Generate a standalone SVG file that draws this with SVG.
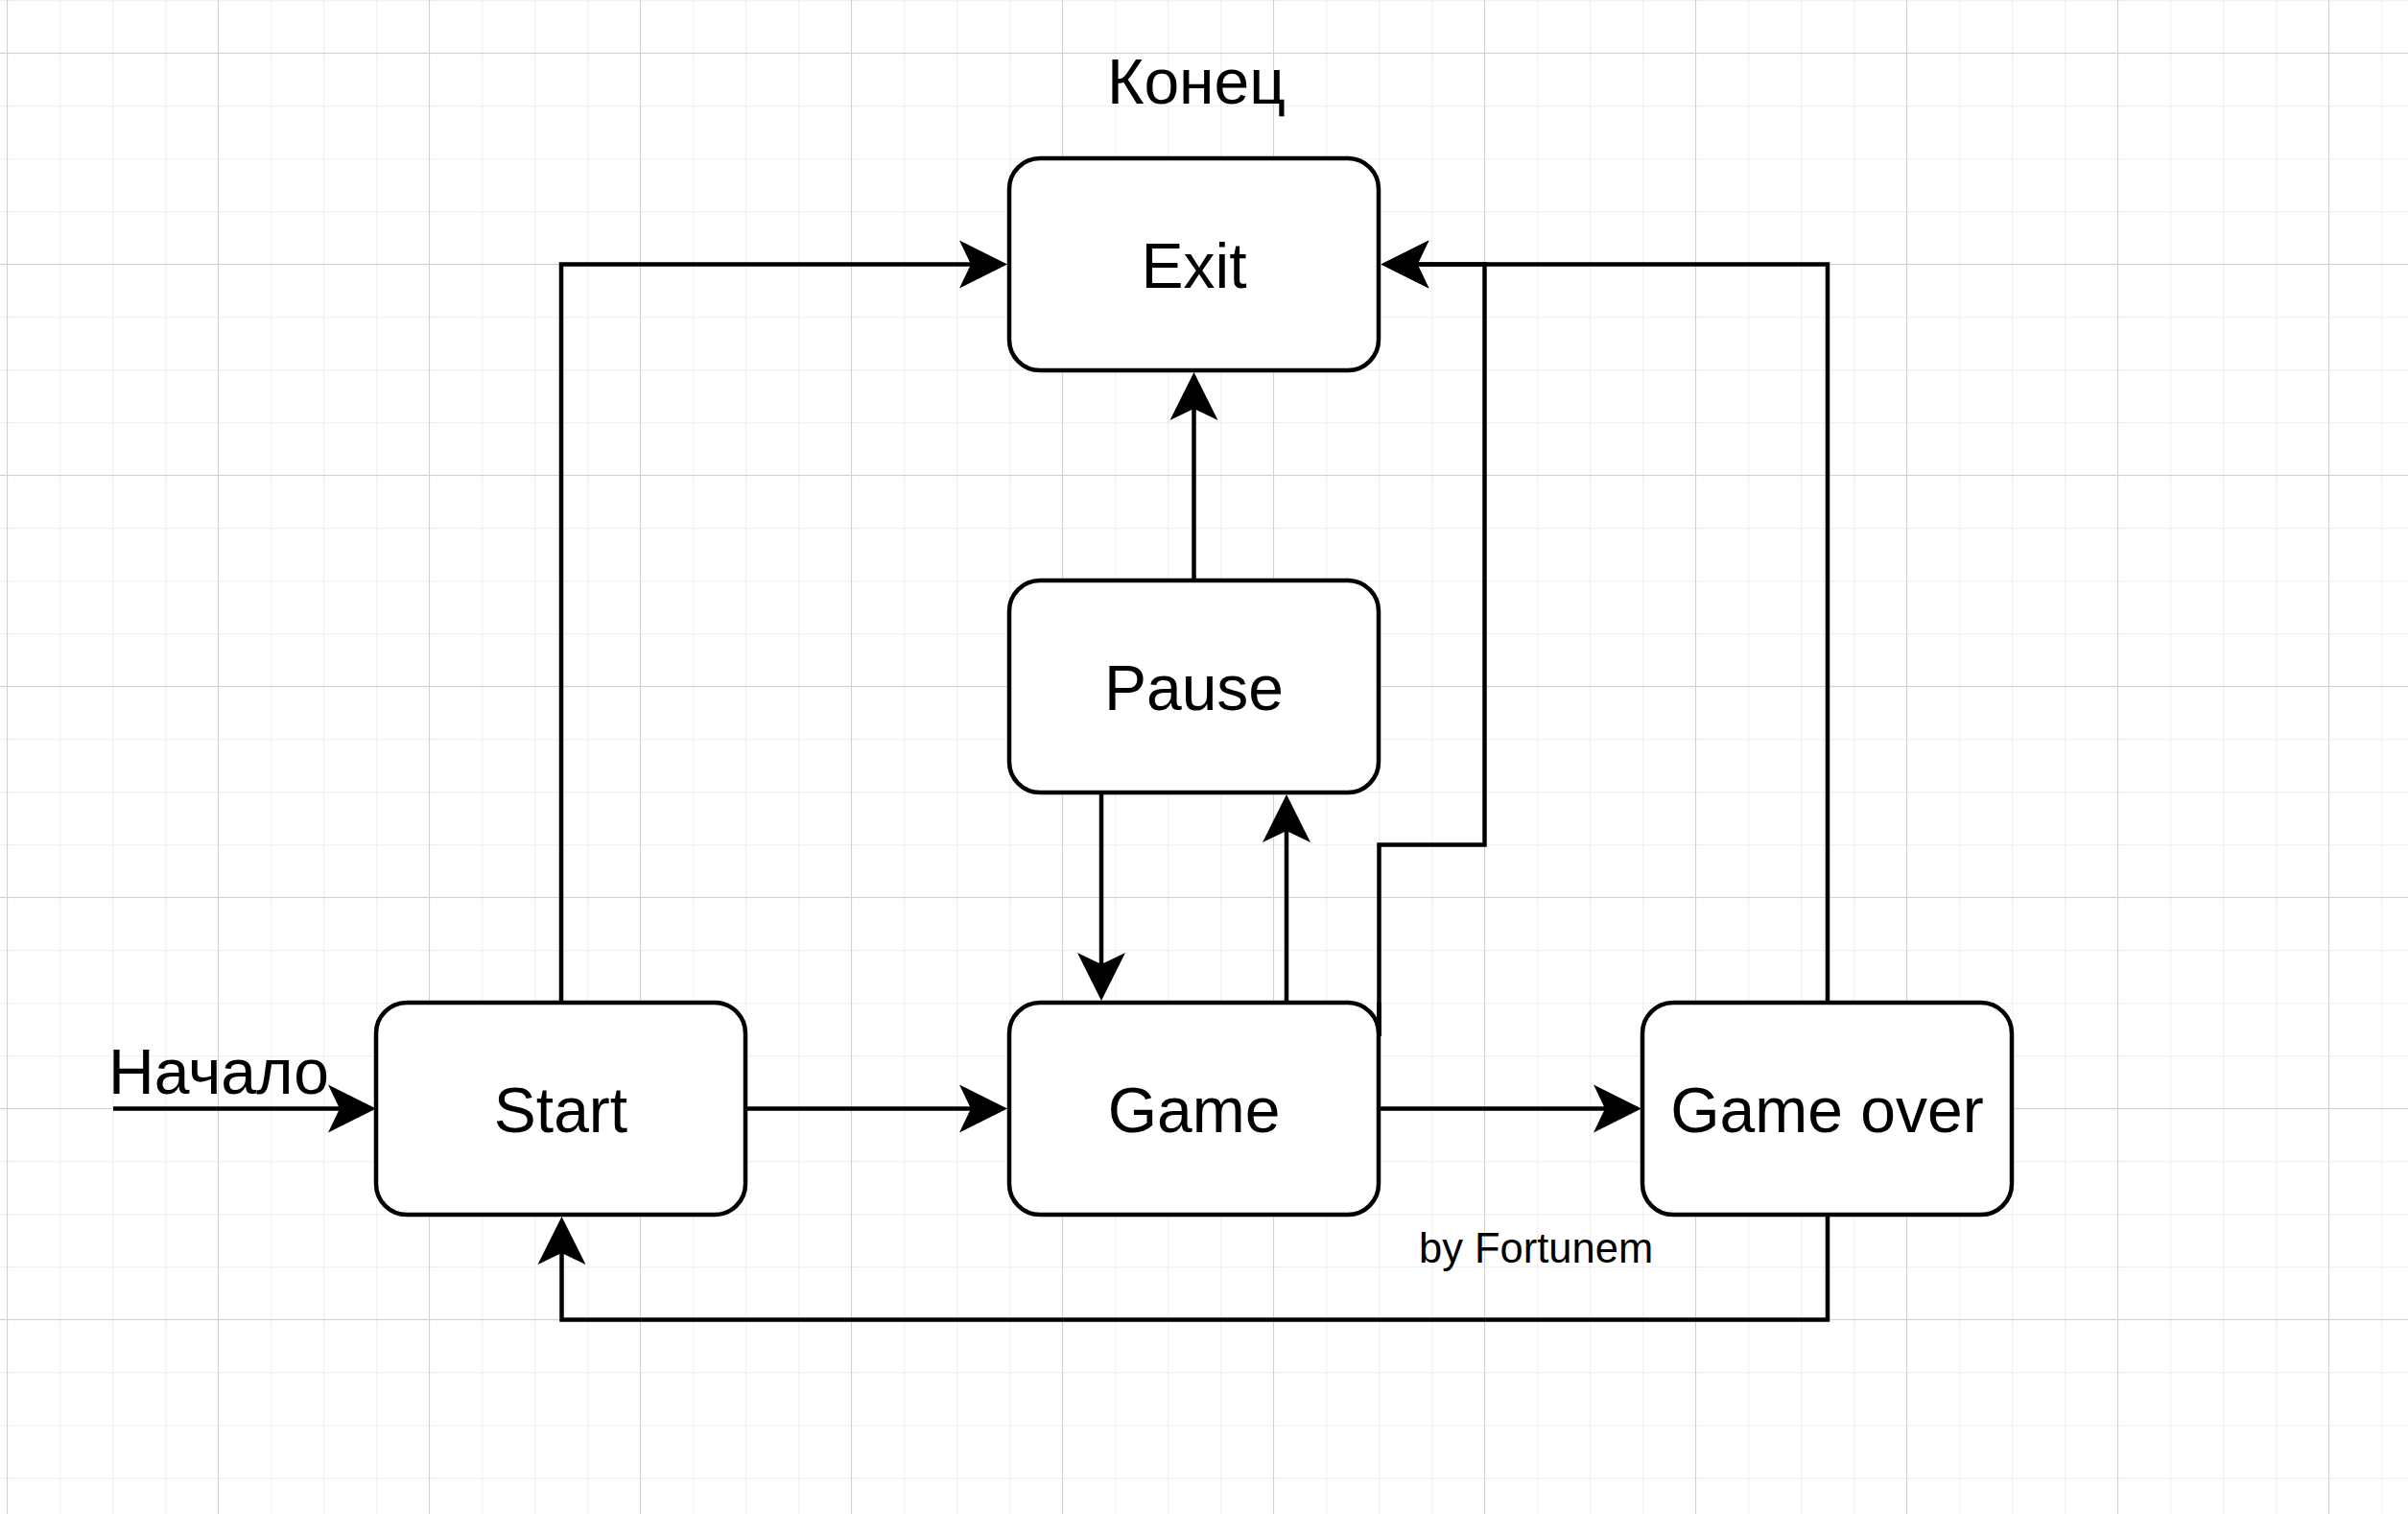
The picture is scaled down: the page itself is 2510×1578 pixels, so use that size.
<svg xmlns="http://www.w3.org/2000/svg" width="2510" height="1578" viewBox="0 0 2510 1578">
  <defs>
    <pattern id="gridMinor" patternUnits="userSpaceOnUse" x="7" y="0" width="55" height="55">
      <path d="M0.5,0 V55 M0,0.5 H55" fill="none" stroke="#f0f0f0" stroke-width="1.5"/>
    </pattern>
    <pattern id="gridMajor" patternUnits="userSpaceOnUse" x="7" y="55" width="220" height="220">
      <path d="M0.5,0 V220 M0,0.5 H220" fill="none" stroke="#d0d0d0" stroke-width="1"/>
    </pattern>
    <marker id="arrow" markerUnits="userSpaceOnUse" viewBox="-32 -27 54 54" markerWidth="54" markerHeight="54" refX="0" refY="0" orient="auto">
      <path d="M20,0 L-30,-25 L-18,0 L-30,25 Z" fill="#000"/>
    </marker>
  </defs>
  <style>
    .node rect { fill: #ffffff; stroke: #000000; stroke-width: 4.5; }
    .node text, .label { font-family: "Liberation Sans", Arial, Helvetica, sans-serif; fill: #000000; }
    .node text { font-size: 66px; text-anchor: middle; }
    .edge { fill: none; stroke: #000000; stroke-width: 4.5; stroke-linejoin: miter; }
    .arrowed { marker-end: url(#arrow); }
  </style>

  <rect x="0" y="0" width="2510" height="1578" fill="#ffffff"/>
  <rect x="0" y="0" width="2510" height="1578" fill="url(#gridMinor)"/>
  <rect x="0" y="0" width="2510" height="1578" fill="url(#gridMajor)"/>

  <g id="connectors">
    <path class="edge arrowed" d="M118,1155.5 H372"/>
    <path class="edge arrowed" d="M585,1045 V275.5 H1030"/>
    <path class="edge arrowed" d="M778,1155.5 H1030"/>
    <path class="edge arrowed" d="M1341,1045 V848"/>
    <path class="edge arrowed" d="M1148,826 V1023"/>
    <path class="edge arrowed" d="M1244.5,605 V408"/>
    <path class="edge arrowed" d="M1437,1155.5 H1691"/>
    <path class="edge arrowed" d="M1437.5,1080 V880.5 H1547.5 V275.5 H1459.5"/>
    <path class="edge arrowed" d="M1905,1045 V275.5 H1459.5"/>
    <path class="edge arrowed" d="M1905,1266 V1375.5 H585.5 V1288"/>
  </g>

  <g id="node-exit" class="node">
    <rect x="1052" y="165" width="385" height="221" rx="32" ry="32"/>
    <text x="1244.5" y="300">Exit</text>
  </g>
  <g id="node-pause" class="node">
    <rect x="1052" y="605" width="385" height="221" rx="32" ry="32"/>
    <text x="1244.5" y="740">Pause</text>
  </g>
  <g id="node-start" class="node">
    <rect x="392" y="1045" width="385" height="221" rx="32" ry="32"/>
    <text x="584.5" y="1180">Start</text>
  </g>
  <g id="node-game" class="node">
    <rect x="1052" y="1045" width="385" height="221" rx="32" ry="32"/>
    <text x="1244.5" y="1180">Game</text>
  </g>
  <g id="node-gameover" class="node">
    <rect x="1712" y="1045" width="385" height="221" rx="32" ry="32"/>
    <text x="1904.5" y="1180">Game over</text>
  </g>

  <path class="edge" d="M1437.5,1080 V1045"/>

  <g id="labels">
    <text class="label" x="1247" y="108" font-size="66" text-anchor="middle">Конец</text>
    <text class="label" x="113" y="1140" font-size="66">Начало</text>
    <text class="label" x="1479" y="1316" font-size="43.5">by Fortunem</text>
  </g>
</svg>
